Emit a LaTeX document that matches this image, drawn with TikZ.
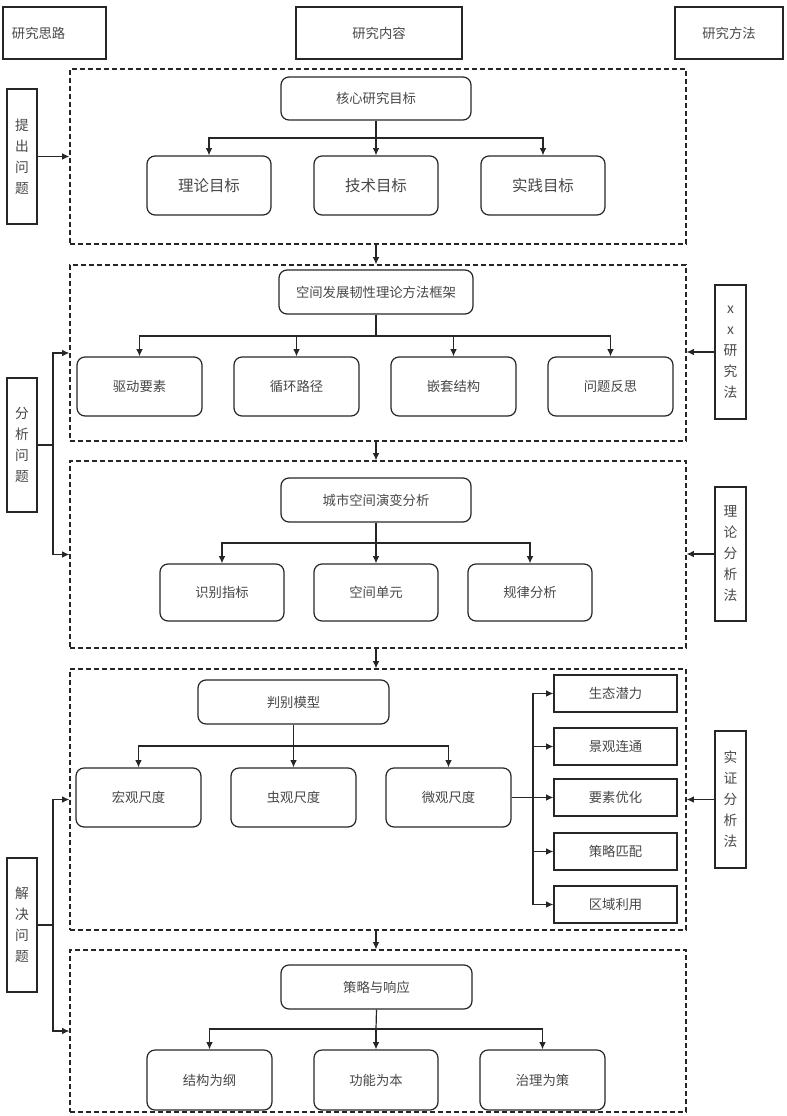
\documentclass[tikz,border=0pt]{standalone}
\usepackage{fontspec}
\newfontfamily\cjk{Noto Sans CJK SC}
\usetikzlibrary{arrows.meta}
\begin{document}
\begin{tikzpicture}[x=0.75pt,y=-0.75pt,
  pos/.style n args={4}{at={({(#1+#3)/2},{(#2+#4)/2})}, minimum width={(#3-#1)*0.75pt}, minimum height={(#4-#2)*0.75pt}},
  base/.style={draw=black!85, line width=0.9pt, text=black!72, font=\cjk\fontsize{10}{12}\selectfont, inner sep=0pt, anchor=center},
  rbox/.style={base, rounded corners=6pt},
  sbox/.style={base},
  bigtxt/.style={font=\cjk\fontsize{11.6}{14}\selectfont},
  vtxt/.style={align=center, font=\cjk\fontsize{10.3}{15.75}\selectfont},
  dbox/.style={draw=black!85, line width=0.9pt, dash pattern=on 3.75pt off 2.25pt, inner sep=0pt, anchor=center},
  arr/.style={-{Latex[length=5.5pt,width=5pt]}, line width=0.9pt, draw=black!85},
  ln/.style={line width=0.9pt, draw=black!85}]
\useasboundingbox (0,0) rectangle (786,1116);

% header
\node[sbox, pos={3}{7}{106}{59}, text width=63.75pt, align=left] (h1) {研究思路};
\node[sbox, pos={296}{7}{462}{59}] (h2) {研究内容};
\node[sbox, pos={675}{7}{783}{59}] (h3) {研究方法};

% dashed frames
\node[dbox, pos={70}{69}{686}{244}] (d1) {};
\node[dbox, pos={70}{265}{686}{441}] (d2) {};
\node[dbox, pos={70}{461}{686}{648}] (d3) {};
\node[dbox, pos={70}{669}{686}{930}] (d4) {};
\node[dbox, pos={70}{950}{686}{1112}] (d5) {};

% left side boxes
\node[sbox, vtxt, pos={7}{89}{37}{224}] (p1) {提\\出\\问\\题};
\node[sbox, vtxt, pos={7}{378}{37}{512}] (a2) {分\\析\\问\\题};
\node[sbox, vtxt, pos={7}{858}{37}{992}] (a3) {解\\决\\问\\题};

% right side boxes
\node[sbox, vtxt, pos={715}{285}{746}{419}] (m1) {x\\x\\研\\究\\法};
\node[sbox, vtxt, pos={715}{487}{746}{621}] (m2) {理\\论\\分\\析\\法};
\node[sbox, vtxt, pos={715}{731}{746}{868}] (m3) {实\\证\\分\\析\\法};

% section 1
\node[rbox, pos={281}{77}{471}{120}] (c1) {核心研究目标};
\node[rbox, bigtxt, pos={147}{156}{271}{215}] (t1) {理论目标};
\node[rbox, bigtxt, pos={314}{156}{438}{215}] (t2) {技术目标};
\node[rbox, bigtxt, pos={481}{156}{605}{215}] (t3) {实践目标};
\coordinate (b1) at (376,138);
\draw[ln] (c1.south) -- (b1);
\draw[arr] (b1) -| (t1.north);
\draw[arr] (b1) -- (t2.north);
\draw[arr] (b1) -| (t3.north);

% section 2
\node[rbox, pos={279}{270}{473}{314}] (c2) {空间发展韧性理论方法框架};
\node[rbox, pos={77}{357}{202}{416}] (s21) {驱动要素};
\node[rbox, pos={234}{357}{359}{416}] (s22) {循环路径};
\node[rbox, pos={391}{357}{516}{416}] (s23) {嵌套结构};
\node[rbox, pos={548}{357}{673}{416}] (s24) {问题反思};
\coordinate (b2) at (376,336);
\draw[ln] (c2.south) -- (b2);
\draw[arr] (b2) -| (s21.north);
\draw[arr] (b2) -| (s22.north);
\draw[arr] (b2) -| (s23.north);
\draw[arr] (b2) -| (s24.north);

% section 3
\node[rbox, pos={281}{478}{471}{522}] (c3) {城市空间演变分析};
\node[rbox, pos={160}{564}{284}{621}] (s31) {识别指标};
\node[rbox, pos={314}{564}{438}{621}] (s32) {空间单元};
\node[rbox, pos={468}{564}{592}{621}] (s33) {规律分析};
\coordinate (b3) at (376,543);
\draw[ln] (c3.south) -- (b3);
\draw[arr] (b3) -| (s31.north);
\draw[arr] (b3) -- (s32.north);
\draw[arr] (b3) -| (s33.north);

% section 4
\node[rbox, pos={198}{680}{389}{724}] (c4) {判别模型};
\node[rbox, pos={76}{768}{201}{827}] (w1) {宏观尺度};
\node[rbox, pos={231}{768}{356}{827}] (w2) {虫观尺度};
\node[rbox, pos={386}{768}{511}{827}] (w3) {微观尺度};
\coordinate (b4) at (293.5,746);
\draw[ln] (c4.south) -- (b4);
\draw[arr] (b4) -| (w1.north);
\draw[arr] (b4) -- (w2.north);
\draw[arr] (b4) -| (w3.north);
\node[sbox, pos={554}{675}{677}{712}] (r1) {生态潜力};
\node[sbox, pos={554}{728}{677}{765}] (r2) {景观连通};
\node[sbox, pos={554}{779}{677}{816}] (r3) {要素优化};
\node[sbox, pos={554}{833}{677}{870}] (r4) {策略匹配};
\node[sbox, pos={554}{886}{677}{923}] (r5) {区域利用};
\coordinate (jb) at (533,797.5);
\draw[ln] (w3.east) -- (jb);
\draw[arr] (jb) |- (r1.west);
\draw[arr] (jb) |- (r2.west);
\draw[arr] (jb) -- (r3.west);
\draw[arr] (jb) |- (r4.west);
\draw[arr] (jb) |- (r5.west);

% section 5
\node[rbox, pos={281}{965}{472}{1009}] (c5) {策略与响应};
\node[rbox, pos={147}{1050}{272}{1110}] (f1) {结构为纲};
\node[rbox, pos={314}{1050}{438}{1110}] (f2) {功能为本};
\node[rbox, pos={480}{1050}{605}{1110}] (f3) {治理为策};
\coordinate (b5) at (376,1029);
\draw[ln] (c5.south) -- (b5);
\draw[arr] (b5) -| (f1.north);
\draw[arr] (b5) -- (f2.north);
\draw[arr] (b5) -| (f3.north);

% between frames
\draw[arr] (d1.south -| b1) -- (d2.north -| b1);
\draw[arr] (d2.south -| b1) -- (d3.north -| b1);
\draw[arr] (d3.south -| b1) -- (d4.north -| b1);
\draw[arr] (d4.south -| b1) -- (d5.north -| b1);

% left connectors
\draw[arr] (p1.east) -- (p1.east -| d1.west);
\coordinate (j2) at (53,445);
\draw[ln] (a2.east) -- (j2);
\draw[arr] (j2) |- (d2.west);
\draw[arr] (j2) |- (d3.west);
\coordinate (j3) at (53,925);
\draw[ln] (a3.east) -- (j3);
\draw[arr] (j3) |- (d4.west);
\draw[arr] (j3) |- (d5.west);

% right connectors
\draw[arr] (m1.west) -- (m1.west -| d2.east);
\draw[arr] (m2.west) -- (m2.west -| d3.east);
\draw[arr] (m3.west) -- (m3.west -| d4.east);
\end{tikzpicture}
\end{document}
